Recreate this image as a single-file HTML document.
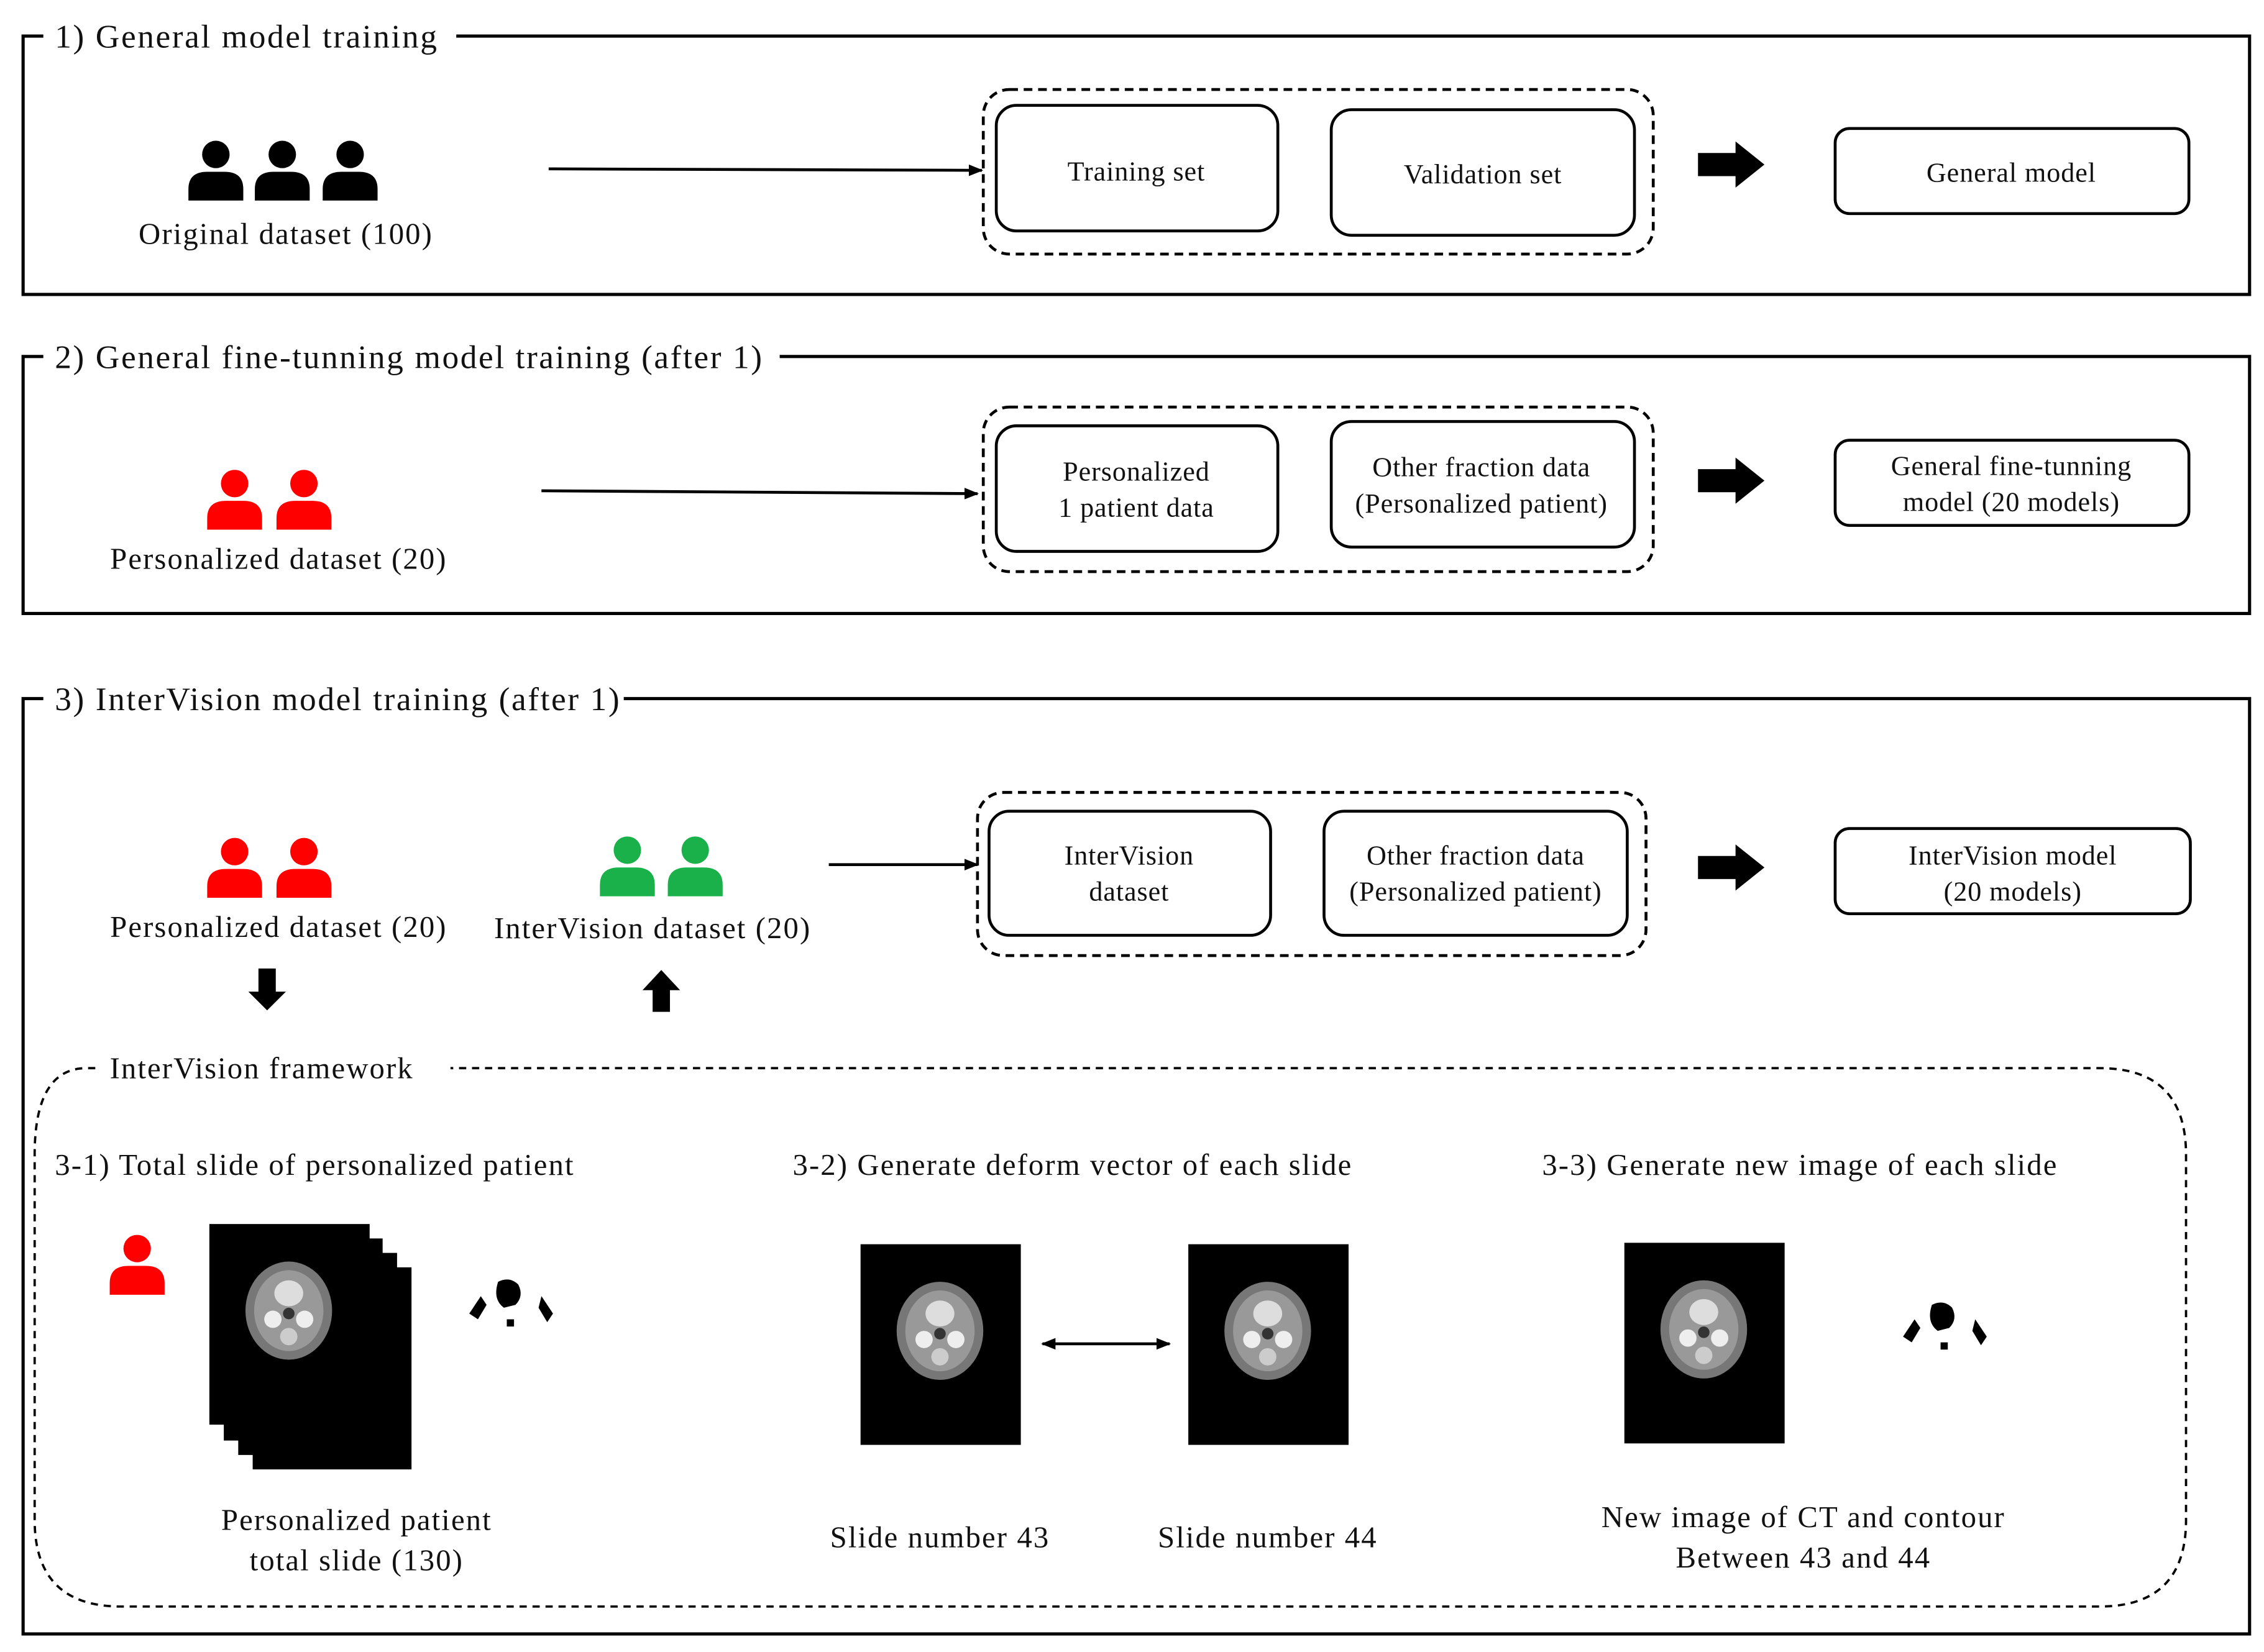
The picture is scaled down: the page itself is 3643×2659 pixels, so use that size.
<!DOCTYPE html>
<html><head><meta charset="utf-8"><style>
html,body{margin:0;padding:0;background:#fff;}
svg{display:block;}
text{font-family:"Liberation Serif",serif;fill:#111;}
.t{letter-spacing:1.1px;}
.m{letter-spacing:0.9px;}
.s{letter-spacing:0.4px;}
</style></head><body>
<svg width="3643" height="2659" viewBox="0 0 1568 1144.5" preserveAspectRatio="none" xmlns="http://www.w3.org/2000/svg">
<defs>
<symbol id="p" viewBox="0 0 40 42"><circle cx="20" cy="10" r="9.5"/><path d="M1 42 V34 Q1 22 14 22 H26 Q39 22 39 34 V42 Z"/></symbol>
<marker id="ah" markerWidth="10" markerHeight="8" refX="9" refY="4" orient="auto" markerUnits="userSpaceOnUse"><path d="M0 0 L10 4 L0 8 Z" fill="#000"/></marker>
<marker id="ahs" markerWidth="10" markerHeight="8" refX="1" refY="4" orient="auto" markerUnits="userSpaceOnUse"><path d="M10 0 L0 4 L10 8 Z" fill="#000"/></marker>
<g id="big"><path d="M0 8 H26 V0 L46 16 L26 32 V24 H0 Z" fill="#000"/></g>
<g id="ct">
<rect x="0" y="0" width="111" height="139" fill="#000"/>
<ellipse cx="55" cy="60" rx="30" ry="34" fill="#777"/>
<ellipse cx="55" cy="60" rx="24" ry="28" fill="#999"/>
<ellipse cx="55" cy="48" rx="10" ry="9" fill="#ddd"/>
<circle cx="44" cy="66" r="6" fill="#eee"/><circle cx="66" cy="66" r="6" fill="#eee"/>
<circle cx="55" cy="78" r="6" fill="#ccc"/><circle cx="55" cy="62" r="4" fill="#333"/>
</g>
<g id="cont"><path d="M22 4 Q30 0 36 6 Q40 14 34 20 L26 22 Q18 16 22 4Z" fill="#000"/><path d="M2 26 L10 14 L14 20 L8 30Z M52 14 L60 26 L56 32 L50 22Z M28 30 h5 v5 h-5Z" fill="#000"/></g>
</defs>

<g fill="none" stroke="#000" stroke-width="2.2">
<path d="M30 25 H16 V204 H1558 V25 H316"/>
<path d="M30 247 H16 V425 H1558 V247 H540"/>
<path d="M30 484 H16 V1132 H1558 V484 H432"/>
</g>
<text class="t" x="38" y="33" font-size="23">1) General model training</text>
<text class="t" x="38" y="255" font-size="23">2) General fine-tunning model training (after 1)</text>
<text class="t" x="38" y="492" font-size="23">3) InterVision model training (after 1)</text>

<use href="#p" x="129" y="97" width="41" height="42" fill="#000"/>
<use href="#p" x="175" y="97" width="41" height="42" fill="#000"/>
<use href="#p" x="222" y="97" width="41" height="42" fill="#000"/>
<text class="m" x="198" y="169" font-size="21" text-anchor="middle">Original dataset (100)</text>
<line x1="380" y1="117" x2="680" y2="118" stroke="#000" stroke-width="2" marker-end="url(#ah)"/>
<g fill="none" stroke="#000" stroke-width="2">
<rect x="681" y="62" width="464" height="114" rx="18" stroke-dasharray="6,4"/>
<rect x="690" y="73" width="195" height="87" rx="14"/>
<rect x="922" y="76" width="210" height="87" rx="14"/>
<rect x="1271" y="89" width="245" height="59" rx="10"/>
</g>
<text class="s" x="787" y="125" font-size="19" text-anchor="middle">Training set</text>
<text class="s" x="1027" y="127" font-size="19" text-anchor="middle">Validation set</text>
<use href="#big" x="1176" y="98"/>
<text class="s" x="1393" y="126" font-size="19" text-anchor="middle">General model</text>

<use href="#p" x="142" y="325" width="41" height="42" fill="#f00"/>
<use href="#p" x="190" y="325" width="41" height="42" fill="#f00"/>
<text class="m" x="193" y="394" font-size="21" text-anchor="middle">Personalized dataset (20)</text>
<line x1="375" y1="340" x2="677" y2="342" stroke="#000" stroke-width="2" marker-end="url(#ah)"/>
<g fill="none" stroke="#000" stroke-width="2">
<rect x="681" y="282" width="464" height="114" rx="18" stroke-dasharray="6,4"/>
<rect x="690" y="295" width="195" height="87" rx="14"/>
<rect x="922" y="292" width="210" height="87" rx="14"/>
<rect x="1271" y="305" width="245" height="59" rx="10"/>
</g>
<text class="s" x="787" y="333" font-size="19" text-anchor="middle">Personalized</text>
<text class="s" x="787" y="358" font-size="19" text-anchor="middle">1 patient data</text>
<text class="s" x="1026" y="330" font-size="19" text-anchor="middle">Other fraction data</text>
<text class="s" x="1026" y="355" font-size="19" text-anchor="middle">(Personalized patient)</text>
<use href="#big" x="1176" y="317"/>
<text class="s" x="1393" y="329" font-size="19" text-anchor="middle">General fine-tunning</text>
<text class="s" x="1393" y="354" font-size="19" text-anchor="middle">model (20 models)</text>

<use href="#p" x="142" y="580" width="41" height="42" fill="#f00"/>
<use href="#p" x="190" y="580" width="41" height="42" fill="#f00"/>
<text class="m" x="193" y="649" font-size="21" text-anchor="middle">Personalized dataset (20)</text>
<use href="#p" x="414" y="579" width="41" height="42" fill="#1ab04a"/>
<use href="#p" x="461" y="579" width="41" height="42" fill="#1ab04a"/>
<text class="m" x="452" y="650" font-size="21" text-anchor="middle">InterVision dataset (20)</text>
<path d="M179 671 H191 V687 H198 L185 700 L172 687 H179 Z" fill="#000"/>
<path d="M452 701 H464 V686 H471 L458 672 L445 686 H452 Z" fill="#000"/>
<line x1="574" y1="599" x2="677" y2="599" stroke="#000" stroke-width="2" marker-end="url(#ah)"/>
<g fill="none" stroke="#000" stroke-width="2">
<rect x="677" y="549" width="463" height="113" rx="18" stroke-dasharray="6,4"/>
<rect x="685" y="562" width="195" height="86" rx="14"/>
<rect x="917" y="562" width="210" height="86" rx="14"/>
<rect x="1271" y="574" width="246" height="59" rx="10"/>
</g>
<text class="s" x="782" y="599" font-size="19" text-anchor="middle">InterVision</text>
<text class="s" x="782" y="624" font-size="19" text-anchor="middle">dataset</text>
<text class="s" x="1022" y="599" font-size="19" text-anchor="middle">Other fraction data</text>
<text class="s" x="1022" y="624" font-size="19" text-anchor="middle">(Personalized patient)</text>
<use href="#big" x="1176" y="585"/>
<text class="s" x="1394" y="599" font-size="19" text-anchor="middle">InterVision model</text>
<text class="s" x="1394" y="624" font-size="19" text-anchor="middle">(20 models)</text>

<path d="M66 740 H60 Q24 740 24 800 V1053 Q24 1113 84 1113 H1454 Q1514 1113 1514 1053 V800 Q1514 740 1454 740 H312" fill="none" stroke="#000" stroke-width="1.6" stroke-dasharray="5,4"/>
<text class="m" x="76" y="747" font-size="21">InterVision framework</text>
<text class="m" x="38" y="814" font-size="21">3-1) Total slide of personalized patient</text>
<text class="m" x="549" y="814" font-size="21">3-2) Generate deform vector of each slide</text>
<text class="m" x="1068" y="814" font-size="21">3-3) Generate new image of each slide</text>

<use href="#p" x="75" y="855" width="40" height="42" fill="#f00"/>
<rect x="175" y="878" width="110" height="140" fill="#000"/>
<rect x="165" y="868" width="110" height="140" fill="#000"/>
<rect x="155" y="858" width="110" height="140" fill="#000"/>
<use href="#ct" x="145" y="848"/>
<use href="#cont" x="323" y="884"/>
<text class="m" x="247" y="1060" font-size="21" text-anchor="middle">Personalized patient</text>
<text class="m" x="247" y="1088" font-size="21" text-anchor="middle">total slide (130)</text>

<use href="#ct" x="596" y="862"/>
<use href="#ct" x="823" y="862"/>
<line x1="722" y1="931" x2="810" y2="931" stroke="#000" stroke-width="2" marker-start="url(#ahs)" marker-end="url(#ah)"/>
<text class="m" x="651" y="1072" font-size="21" text-anchor="middle">Slide number 43</text>
<text class="m" x="878" y="1072" font-size="21" text-anchor="middle">Slide number 44</text>

<use href="#ct" x="1125" y="861"/>
<use href="#cont" x="1316" y="900"/>
<text class="m" x="1249" y="1058" font-size="21" text-anchor="middle">New image of CT and contour</text>
<text class="m" x="1249" y="1086" font-size="21" text-anchor="middle">Between 43 and 44</text>
</svg>
</body></html>
